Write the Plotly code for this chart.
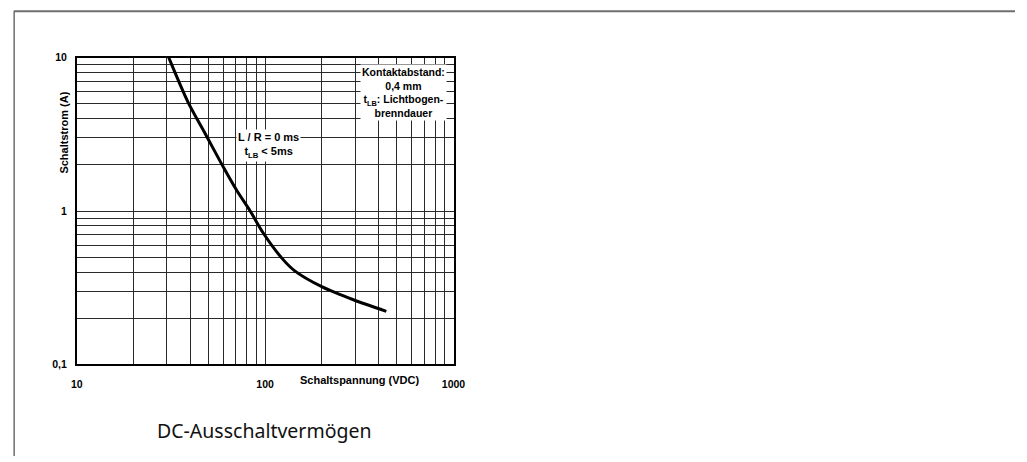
import plotly.graph_objects as go

# Data (log-log)
voltage_vdc = [30.8, 38.9, 48.5, 60.5, 71, 83.3, 97.9, 122, 143, 201, 294, 440]
current_a = [10.0, 5.15, 3.13, 1.9, 1.35, 1.0, 0.716, 0.497, 0.409, 0.32, 0.264, 0.222]

x_ticks = [10, 100, 1000]
x_tick_labels = ["10", "100", "1000"]
x_minor_grid = [20, 30, 40, 50, 60, 70, 80, 90, 200, 300, 400, 500, 600, 700, 800, 900]
y_ticks = [0.1, 1, 10]
y_tick_labels = ["0,1", "1", "10"]
y_minor_grid = [0.2, 0.3, 0.4, 0.5, 0.6, 0.7, 0.8, 0.9, 2, 3, 4, 5, 6, 7, 8, 9]

W, H = 1027, 462
FONT = "Liberation Sans, Arial, sans-serif"
GRID = "#2a2a2a"


def px_x(p):
    return p / W


def px_y(p):
    return 1 - p / H


fig = go.Figure()
fig.add_trace(go.Scatter(
    x=voltage_vdc, y=current_a, mode="lines",
    line=dict(color="black", width=3, shape="spline", smoothing=0.8),
    showlegend=False, hoverinfo="skip",
))

axis_common = dict(
    type="log", showgrid=True, gridcolor=GRID, gridwidth=1,
    showline=True, linecolor="black", linewidth=1.5, mirror=True,
    ticks="outside", tickcolor="white", zeroline=False,
    tickfont=dict(family=FONT, size=10.5, color="black", weight="bold"),
)

fig.update_layout(
    width=W, height=H,
    margin=dict(l=0, r=0, t=0, b=0),
    paper_bgcolor="white", plot_bgcolor="white",
    xaxis=dict(axis_common, range=[1, 3], domain=[px_x(72), px_x(455.5)],
               tickmode="array", tickvals=x_ticks, ticktext=x_tick_labels, ticklen=9,
               minor=dict(tickmode="array", tickvals=x_minor_grid, showgrid=True,
                          gridcolor=GRID, gridwidth=1, ticks="")),
    yaxis=dict(axis_common, range=[-1, 1], domain=[px_y(368), px_y(53)],
               tickmode="array", tickvals=y_ticks, ticktext=y_tick_labels, ticklen=6,
               minor=dict(tickmode="array", tickvals=y_minor_grid, showgrid=True,
                          gridcolor=GRID, gridwidth=1, ticks="")),
)

center = dict(xanchor="center", yanchor="middle", showarrow=False)
annotations = [
    dict(center, text="Schaltspannung (VDC)", x=px_x(360), y=px_y(384),
         xref="paper", yref="paper",
         font=dict(family=FONT, size=11, color="black", weight="bold")),
    dict(center, text="Schaltstrom (A)", x=px_x(59), y=px_y(130),
         xref="paper", yref="paper", textangle=-90,
         font=dict(family=FONT, size=11, color="black", weight="bold")),
    dict(center, text="L / R = 0 ms<br>t<sub>LB</sub> < 5ms", x=2.018, y=0.428,
         xref="x", yref="y", bgcolor="white", borderpad=1,
         font=dict(family=FONT, size=11, color="black", weight="bold")),
    dict(center, text="Kontaktabstand:<br>0,4 mm<br>t<sub>LB</sub>: Lichtbogen-<br>brenndauer",
         x=2.734, y=0.775, xref="x", yref="y", bgcolor="white", borderpad=1,
         font=dict(family=FONT, size=10.5, color="black", weight="bold")),
    dict(center, text="DC-Ausschaltvermögen", x=px_x(262.5), y=px_y(436),
         xref="paper", yref="paper",
         font=dict(family="Noto Sans", size=19.5, color="#111")),
]
fig.update_layout(annotations=annotations)

# page frame lines (top and left)
fig.add_shape(type="line", xref="paper", yref="paper",
              x0=px_x(8), x1=1, y0=px_y(5.5), y1=px_y(5.5),
              line=dict(color="#6e6e6e", width=2))
fig.add_shape(type="line", xref="paper", yref="paper",
              x0=px_x(8.3), x1=px_x(8.3), y0=px_y(5.5), y1=0,
              line=dict(color="#6e6e6e", width=1.5))

fig.write_html(
    "out.html",
    config={"displayModeBar": False},
    post_script="document.documentElement.style.margin='0';"
                "document.body.style.margin='0';document.body.style.overflow='hidden';",
)
